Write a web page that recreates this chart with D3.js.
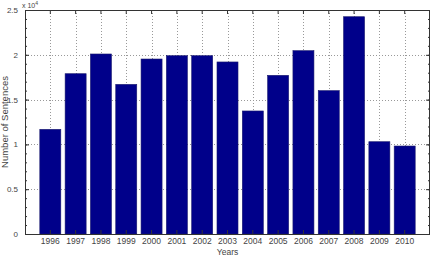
<!DOCTYPE html>
<html>
<head>
<meta charset="utf-8">
<script src="https://cdn.jsdelivr.net/npm/d3@7"></script>
<style>
  body { margin: 0; background: #fff; }
  text { font-family: "Liberation Sans", Arial, sans-serif; fill: #444; }
</style>
</head>
<body>
<div class="chart"></div>
<script>
  // chart data
  var years = [1996, 1997, 1998, 1999, 2000, 2001, 2002, 2003, 2004, 2005, 2006, 2007, 2008, 2009, 2010];
  var sentences = [11680, 17890, 20090, 16700, 19530, 19900, 19900, 19200, 13730, 17710, 20460, 16000, 24250, 10300, 9820];
  var yTicks = [0, 0.5, 1, 1.5, 2, 2.5];

  var width = 433;
  var height = 256;
  var margin = {top: 10, right: 3, bottom: 22, left: 25};

  var svg = d3.select('.chart')
    .append('svg')
    .attr('width', width)
    .attr('height', height);

  var x = d3.scaleBand()
    .domain(years)
    .range([margin.left, width - margin.right])
    .paddingInner(0.17)
    .paddingOuter(0.585);

  // values shown in units of 10^4
  var y = d3.scaleLinear()
    .domain([0, 2.5])
    .range([height - margin.bottom, margin.top]);

  var plotLeft = margin.left, plotRight = width - margin.right;
  var plotTop = margin.top, plotBottom = height - margin.bottom;

  // dotted grid first so bars sit on top
  var grid = svg.append('g')
    .attr('stroke', '#999')
    .attr('stroke-width', 1)
    .attr('stroke-dasharray', '1,2');

  grid.selectAll('.vgrid')
    .data(years)
    .enter()
    .append('line')
    .attr('x1', function(d){ return Math.round(x(d) + x.bandwidth() / 2) + 0.5 })
    .attr('x2', function(d){ return Math.round(x(d) + x.bandwidth() / 2) + 0.5 })
    .attr('y1', plotTop)
    .attr('y2', plotBottom);

  grid.selectAll('.hgrid')
    .data(yTicks.slice(1, -1))
    .enter()
    .append('line')
    .attr('x1', plotLeft)
    .attr('x2', plotRight)
    .attr('y1', function(d){ return Math.round(y(d)) + 0.5 })
    .attr('y2', function(d){ return Math.round(y(d)) + 0.5 });

  svg.selectAll('.bar')
    .data(sentences)
    .enter()
    .append('rect')
    .attr('class', 'bar')
    .attr('x', function(d, i){ return x(years[i]) })
    .attr('width', x.bandwidth())
    .attr('y', function(d){ return y(d / 10000) })
    .attr('height', function(d){ return y(0) - y(d / 10000) })
    .attr('fill', '#00008a')
    .attr('stroke', '#1a1a6e')
    .attr('stroke-width', 0.6);

  // axes box with inward ticks, matlab style
  var tickLen = 4, minorLen = 2;

  svg.append('g')
    .attr('transform', 'translate(0,' + plotBottom + ')')
    .call(d3.axisBottom(x).tickSizeInner(-tickLen).tickSizeOuter(0).tickPadding(4))
    .call(function(g){ g.select('.domain').remove() })
    .selectAll('text')
    .style('font-size', '8.5px');

  svg.append('g')
    .attr('transform', 'translate(0,' + plotTop + ')')
    .call(d3.axisTop(x).tickSizeInner(-tickLen).tickSizeOuter(0).tickFormat(''))
    .call(function(g){ g.select('.domain').remove() });

  var minor = d3.range(0, 26).map(function(d){ return d / 10 });

  svg.append('g')
    .attr('transform', 'translate(' + plotLeft + ',0)')
    .call(d3.axisLeft(y).tickValues(minor).tickSizeInner(-minorLen).tickSizeOuter(0).tickFormat(''))
    .call(function(g){ g.select('.domain').remove() });

  svg.append('g')
    .attr('transform', 'translate(' + plotLeft + ',0)')
    .call(d3.axisLeft(y).tickValues(yTicks).tickSizeInner(-tickLen).tickSizeOuter(0).tickPadding(7).tickFormat(d3.format('')))
    .call(function(g){ g.select('.domain').remove() })
    .selectAll('text')
    .style('font-size', '8px');

  svg.append('g')
    .attr('transform', 'translate(' + plotRight + ',0)')
    .call(d3.axisRight(y).tickValues(minor).tickSizeInner(-minorLen).tickSizeOuter(0).tickFormat(''))
    .call(function(g){ g.select('.domain').remove() });

  svg.append('g')
    .attr('transform', 'translate(' + plotRight + ',0)')
    .call(d3.axisRight(y).tickValues(yTicks).tickSizeInner(-tickLen).tickSizeOuter(0).tickFormat(''))
    .call(function(g){ g.select('.domain').remove() });

  svg.selectAll('.tick line').attr('stroke', '#333');

  svg.append('rect')
    .attr('x', plotLeft + 0.5)
    .attr('y', plotTop + 0.5)
    .attr('width', plotRight - plotLeft - 1)
    .attr('height', plotBottom - plotTop)
    .attr('fill', 'none')
    .attr('stroke', '#333')
    .attr('stroke-width', 1);

  // exponent label
  var expo = svg.append('text')
    .attr('x', plotLeft - 3)
    .attr('y', 8)
    .style('font-size', '7px');
  expo.append('tspan').text('x 10');
  expo.append('tspan')
    .attr('dy', -3)
    .style('font-size', '5px')
    .text('4');

  svg.append('text')
    .attr('x', (plotLeft + plotRight) / 2)
    .attr('y', 255)
    .attr('text-anchor', 'middle')
    .style('font-size', '8.5px')
    .text('Years');

  svg.append('text')
    .attr('transform', 'translate(8,' + ((plotTop + plotBottom) / 2) + ') rotate(-90)')
    .attr('text-anchor', 'middle')
    .style('font-size', '9.5px')
    .text('Number of Sentences');
</script>
</body>
</html>
